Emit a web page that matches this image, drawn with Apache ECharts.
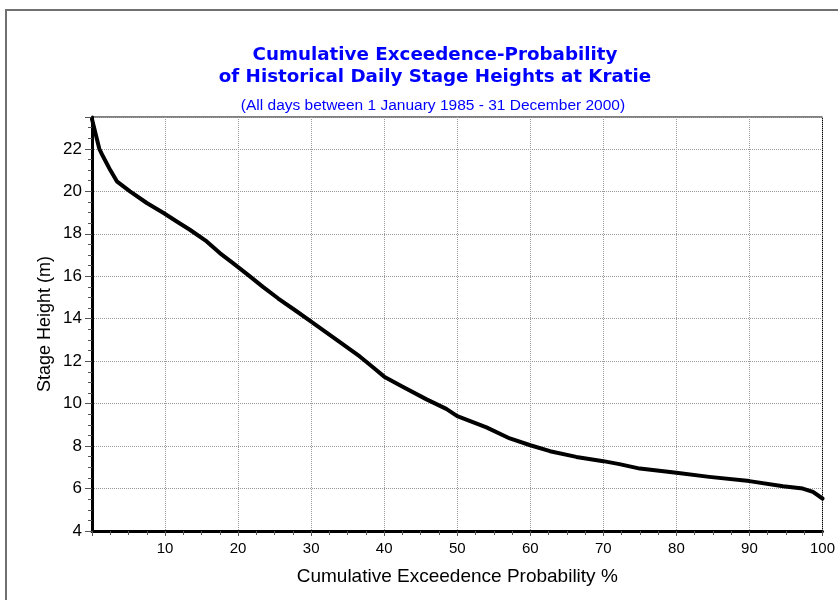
<!DOCTYPE html>
<html>
<head>
<meta charset="utf-8">
<script src="https://cdn.jsdelivr.net/npm/echarts@6/dist/echarts.min.js"></script>
<style>
  html, body { margin: 0; padding: 0; background: #fff; }
  #chart { width: 838px; height: 600px; }
</style>
</head>
<body>
<div id="chart"></div>
<script>
// Exceedence probability (%) and corresponding daily stage height (m)
const probability = [0, 0.5, 1.0, 1.5, 2.5, 3.4, 5.2, 7.5, 9.8, 11.6, 13.4, 15.7, 17.5, 19.3, 21.4, 23.4, 25.5, 28, 30, 33.5, 36.7, 38.5, 40, 42.4, 45.8, 48.5, 50, 54, 57.2, 60, 62.7, 66.3, 70, 72.2, 75, 80, 84.5, 90, 94.6, 97.3, 98.7, 100];
const stageHeight = [23.4, 22.7, 22.0, 21.65, 21.0, 20.47, 20.0, 19.45, 18.98, 18.58, 18.19, 17.64, 17.09, 16.62, 16.05, 15.5, 14.95, 14.35, 13.86, 13.0, 12.21, 11.7, 11.27, 10.82, 10.2, 9.75, 9.41, 8.88, 8.36, 8.04, 7.76, 7.49, 7.29, 7.15, 6.94, 6.74, 6.55, 6.35, 6.11, 6.0, 5.84, 5.53];

const titleLines = ['Cumulative Exceedence-Probability', 'of Historical Daily Stage Heights at Kratie'];
const subTitle = '(All days between 1 January 1985 - 31 December 2000)';
const xName = 'Cumulative Exceedence Probability %';
const yName = 'Stage Height (m)';

const FONT = 'Liberation Sans, Arial, sans-serif';
const TITLE_FONT = 'DejaVu Sans, Verdana, sans-serif';
const chart = echarts.init(document.getElementById('chart'), null, { renderer: 'canvas' });

chart.setOption({
  backgroundColor: '#fff',
  animation: false,
  graphic: [{
    type: 'rect',
    shape: { x: 6, y: 10, width: 900, height: 700 },
    style: { fill: 'none', stroke: '#707070', lineWidth: 2 },
    z: -1
  }],
  title: [{
    text: titleLines.join('\n'),
    left: 430, top: 39, textAlign: 'center',
    textStyle: { fontFamily: TITLE_FONT, fontSize: 18.3, fontWeight: 'bold', color: '#0000ff', lineHeight: 22 }
  }, {
    text: subTitle,
    left: 428, top: 92, textAlign: 'center',
    textStyle: { fontFamily: FONT, fontSize: 15.5, fontWeight: 'normal', color: '#0000ff', lineHeight: 17 }
  }],
  grid: {
    left: 92, top: 117, right: 15, bottom: 69,
    show: true, borderColor: '#000', borderWidth: 1, backgroundColor: 'transparent'
  },
  xAxis: {
    type: 'value', min: 0, max: 100, interval: 10,
    name: xName, nameLocation: 'middle', nameGap: 36,
    nameTextStyle: { fontFamily: FONT, fontSize: 19, color: '#000' },
    axisLine: { show: true, lineStyle: { color: '#000', width: 3 } },
    axisTick: { show: true, length: 5, lineStyle: { color: '#555' } },
    minorTick: { show: true, splitNumber: 4, length: 4, lineStyle: { color: '#555' } },
    axisLabel: {
      fontFamily: FONT, fontSize: 15, color: '#000', margin: 10,
      formatter: v => (v === 0 ? '' : String(v))
    },
    splitLine: { show: true, lineStyle: { color: '#999', type: 'dotted', width: 1 } }
  },
  yAxis: {
    type: 'value', min: 4, max: 23.5, interval: 2,
    name: yName, nameLocation: 'middle', nameGap: 38, nameRotate: 90,
    nameMoveOverlap: false,
    nameTextStyle: { fontFamily: FONT, fontSize: 18, color: '#000' },
    axisLine: { show: true, lineStyle: { color: '#000', width: 3 } },
    axisTick: { show: true, length: 7, lineStyle: { color: '#555' } },
    minorTick: { show: true, splitNumber: 4, length: 4, lineStyle: { color: '#555' } },
    axisLabel: {
      fontFamily: FONT, fontSize: 17, color: '#000', margin: 10, showMaxLabel: false,
      formatter: v => (v % 2 === 0 ? String(v) : '')
    },
    splitLine: { show: true, lineStyle: { color: '#999', type: 'dotted', width: 1 } }
  },
  series: [{
    type: 'line',
    data: probability.map((p, i) => [p, stageHeight[i]]),
    showSymbol: false, symbol: 'none',
    lineStyle: { color: '#000', width: 4, join: 'round', cap: 'round' },
    clip: true
  }]
});
</script>
</body>
</html>
